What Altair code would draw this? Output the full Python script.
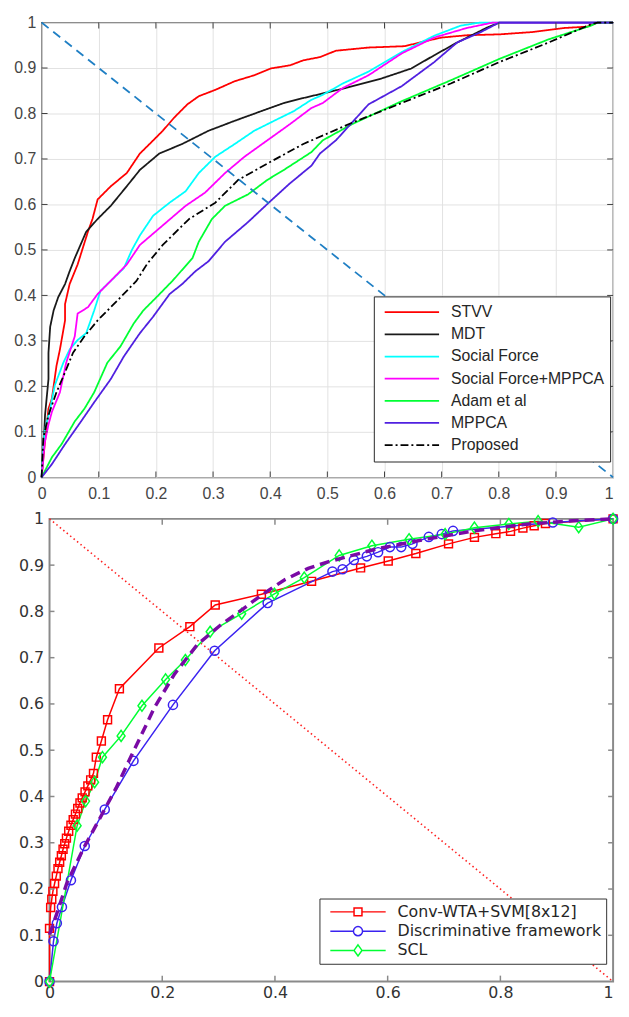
import altair as alt
import pandas as pd

# ---------------- top panel data ----------------
TOP_NAMES = ["STVV", "MDT", "Social Force", "Social Force+MPPCA", "Adam et al", "MPPCA", "Proposed"]
TOP_COLORS = ["#ff0000", "#1a1a1a", "#00ffff", "#ff00ff", "#00ff33", "#5020e0", "#000000"]

stvv_x = [0, 0.006, 0.012, 0.018, 0.026, 0.032, 0.041, 0.041, 0.049, 0.063, 0.069, 0.081, 0.089, 0.098,
          0.121, 0.149, 0.172, 0.189, 0.212, 0.232, 0.255, 0.275, 0.304, 0.338, 0.372, 0.401, 0.435,
          0.458, 0.487, 0.515, 0.572, 0.635, 0.675, 0.700, 0.744, 0.801, 0.858, 0.915, 0.955, 0.973, 1.0]
stvv_y = [0, 0.08, 0.151, 0.173, 0.245, 0.281, 0.345, 0.381, 0.425, 0.468, 0.492, 0.540, 0.568, 0.611,
          0.640, 0.669, 0.712, 0.733, 0.762, 0.791, 0.820, 0.838, 0.852, 0.871, 0.884, 0.899, 0.906,
          0.917, 0.924, 0.938, 0.945, 0.948, 0.960, 0.967, 0.972, 0.974, 0.979, 0.988, 0.991, 1.0, 1.0]

mdt_x = [0, 0.003, 0.006, 0.012, 0.012, 0.015, 0.021, 0.029, 0.041, 0.049, 0.058, 0.078, 0.098, 0.121,
         0.149, 0.172, 0.206, 0.246, 0.292, 0.338, 0.384, 0.424, 0.458, 0.532, 0.595, 0.647, 0.687,
         0.727, 0.778, 0.801, 0.900, 1.0]
mdt_y = [0, 0.058, 0.137, 0.216, 0.274, 0.331, 0.367, 0.396, 0.425, 0.453, 0.482, 0.540, 0.568, 0.597,
         0.640, 0.676, 0.712, 0.733, 0.762, 0.784, 0.805, 0.823, 0.834, 0.856, 0.877, 0.899, 0.928,
         0.956, 0.988, 1.0, 1.0, 1.0]

sf_x = [0, 0.005, 0.015, 0.023, 0.038, 0.049, 0.063, 0.078, 0.092, 0.103, 0.121, 0.144, 0.158, 0.172,
        0.195, 0.224, 0.252, 0.275, 0.304, 0.338, 0.372, 0.407, 0.441, 0.472, 0.492, 0.527, 0.572,
        0.630, 0.687, 0.733, 0.767, 1.0]
sf_y = [0, 0.101, 0.151, 0.202, 0.252, 0.281, 0.302, 0.317, 0.367, 0.410, 0.432, 0.460, 0.500, 0.532,
        0.575, 0.604, 0.629, 0.669, 0.705, 0.733, 0.762, 0.784, 0.805, 0.830, 0.841, 0.866, 0.892,
        0.935, 0.971, 0.993, 1.0, 1.0]

sfm_x = [0, 0.005, 0.012, 0.018, 0.032, 0.043, 0.058, 0.063, 0.081, 0.098, 0.121, 0.149, 0.172, 0.212,
         0.252, 0.286, 0.321, 0.355, 0.395, 0.435, 0.472, 0.492, 0.527, 0.572, 0.630, 0.687, 0.744,
         0.790, 1.0]
sfm_y = [0, 0.073, 0.116, 0.144, 0.187, 0.252, 0.310, 0.360, 0.374, 0.403, 0.432, 0.468, 0.511, 0.554,
         0.597, 0.626, 0.669, 0.705, 0.741, 0.777, 0.812, 0.823, 0.856, 0.884, 0.932, 0.967, 0.988,
         1.0, 1.0]

adam_x = [0, 0.018, 0.035, 0.058, 0.075, 0.092, 0.115, 0.138, 0.161, 0.178, 0.201, 0.229, 0.264, 0.275,
          0.298, 0.321, 0.361, 0.395, 0.424, 0.472, 0.492, 0.544, 0.630, 0.716, 0.801, 0.887, 0.961,
          0.973, 1.0]
adam_y = [0, 0.044, 0.073, 0.123, 0.151, 0.187, 0.252, 0.288, 0.338, 0.367, 0.396, 0.432, 0.482, 0.518,
          0.568, 0.597, 0.622, 0.654, 0.676, 0.715, 0.741, 0.777, 0.827, 0.873, 0.920, 0.963, 0.993,
          1.0, 1.0]

mppca_x = [0, 0.018, 0.041, 0.069, 0.092, 0.121, 0.144, 0.172, 0.195, 0.224, 0.246, 0.269, 0.292, 0.321,
           0.361, 0.401, 0.435, 0.472, 0.487, 0.515, 0.572, 0.630, 0.687, 0.727, 0.767, 0.801, 1.0]
mppca_y = [0, 0.029, 0.073, 0.123, 0.165, 0.216, 0.266, 0.317, 0.353, 0.403, 0.425, 0.453, 0.475, 0.518,
           0.561, 0.608, 0.647, 0.685, 0.712, 0.741, 0.820, 0.860, 0.913, 0.956, 0.978, 1.0, 1.0]

prop_x = [0, 0.003, 0.012, 0.026, 0.041, 0.055, 0.075, 0.098, 0.132, 0.166, 0.185, 0.212, 0.258, 0.304,
          0.344, 0.395, 0.458, 0.544, 0.630, 0.716, 0.801, 0.887, 0.961, 0.973, 1.0]
prop_y = [0, 0.087, 0.137, 0.187, 0.231, 0.274, 0.310, 0.345, 0.388, 0.432, 0.470, 0.511, 0.568, 0.604,
          0.654, 0.690, 0.733, 0.780, 0.823, 0.866, 0.913, 0.956, 0.996, 1.0, 1.0]

top_xs = [stvv_x, mdt_x, sf_x, sfm_x, adam_x, mppca_x, prop_x]
top_ys = [stvv_y, mdt_y, sf_y, sfm_y, adam_y, mppca_y, prop_y]

# ---------------- bottom panel data ----------------
BOT_NAMES = ["Conv-WTA+SVM[8x12]", "Discriminative framework", "SCL"]
BOT_COLORS = ["#ff0000", "#3a22f0", "#00ff33"]

conv_x = [0.000, 0.000, 0.002, 0.004, 0.006, 0.009, 0.012, 0.015, 0.018, 0.021, 0.024, 0.027, 0.030,
          0.034, 0.038, 0.042, 0.046, 0.050, 0.054, 0.058, 0.063, 0.068, 0.073, 0.078, 0.083, 0.092,
          0.103, 0.124, 0.194, 0.249, 0.294, 0.376, 0.465, 0.552, 0.601, 0.650, 0.708, 0.754, 0.792,
          0.818, 0.840, 0.860, 0.880, 1.000]
conv_y = [0.000, 0.115, 0.160, 0.178, 0.195, 0.212, 0.228, 0.244, 0.258, 0.272, 0.286, 0.298, 0.310,
          0.325, 0.338, 0.350, 0.362, 0.374, 0.386, 0.397, 0.410, 0.423, 0.436, 0.450, 0.485, 0.520,
          0.566, 0.633, 0.721, 0.767, 0.814, 0.837, 0.865, 0.894, 0.909, 0.925, 0.946, 0.960, 0.968,
          0.973, 0.980, 0.985, 0.990, 1.000]

disc_x = [0.000, 0.007, 0.013, 0.022, 0.038, 0.0625, 0.098, 0.149, 0.219, 0.293, 0.387, 0.502, 0.520,
          0.540, 0.563, 0.583, 0.604, 0.624, 0.644, 0.673, 0.696, 0.716, 0.893, 1.000]
disc_y = [0.000, 0.087, 0.126, 0.161, 0.219, 0.293, 0.372, 0.477, 0.598, 0.715, 0.818, 0.886, 0.891,
          0.911, 0.919, 0.928, 0.939, 0.939, 0.946, 0.961, 0.967, 0.974, 0.992, 1.000]

scl_x = [0.000, 0.049, 0.064, 0.080, 0.094, 0.127, 0.164, 0.206, 0.241, 0.285, 0.341, 0.399, 0.452,
         0.514, 0.572, 0.638, 0.702, 0.754, 0.815, 0.867, 0.939, 1.000]
scl_y = [0.000, 0.337, 0.390, 0.431, 0.485, 0.531, 0.596, 0.653, 0.695, 0.756, 0.795, 0.838, 0.873,
         0.921, 0.942, 0.956, 0.967, 0.981, 0.989, 0.995, 0.982, 1.000]

purple_x = [0.000, 0.016, 0.031, 0.0625, 0.0885, 0.118, 0.146, 0.187, 0.222, 0.262, 0.303, 0.343, 0.378,
            0.418, 0.459, 0.494, 0.580, 0.667, 0.754, 0.841, 0.928, 1.000]
purple_y = [0.101, 0.158, 0.214, 0.293, 0.351, 0.418, 0.490, 0.594, 0.665, 0.728, 0.770, 0.805, 0.837,
            0.869, 0.893, 0.907, 0.935, 0.956, 0.974, 0.988, 0.996, 1.000]

bot_xs = [conv_x, disc_x, scl_x]
bot_ys = [conv_y, disc_y, scl_y]

diag_x = [0.0, 1.0]
diag_y = [1.0, 0.0]

TICKS_01 = [0.0, 0.1, 0.2, 0.3, 0.4, 0.5, 0.6, 0.7, 0.8, 0.9, 1.0]
TICKS_02 = [0.0, 0.2, 0.4, 0.6, 0.8, 1.0]


def long_df(names, xs, ys, key):
    rows = []
    for n, xv, yv in zip(names, xs, ys):
        for i, (a, b) in enumerate(zip(xv, yv)):
            rows.append({key: n, "fpr": a, "tpr": b, "idx": i})
    return pd.DataFrame(rows)


top_df = long_df(TOP_NAMES, top_xs, top_ys, "method")
bot_df = long_df(BOT_NAMES, bot_xs, bot_ys, "series")
purple_df = pd.DataFrame({"fpr": purple_x, "tpr": purple_y, "idx": list(range(len(purple_x)))})
diag_df = pd.DataFrame({"fpr": diag_x, "tpr": diag_y})
frame_df = pd.DataFrame({"x0": [0.0], "x1": [1.0], "y0": [0.0], "y1": [1.0]})

LAST_RIGHT = {"condition": {"test": "datum.value === 1", "value": "right"}, "value": "center"}


def inward_ticks(xvals, yvals, sx, sy, color, width, xlen, ylen):
    """Inward-pointing tick marks on all four sides of the frame."""
    xt = pd.DataFrame({"v": xvals})
    yt = pd.DataFrame({"v": yvals})
    layers = []
    for edge, off in ((1.0, xlen / 2), (0.0, -xlen / 2)):
        layers.append(alt.Chart(xt).mark_tick(orient="vertical", size=xlen, thickness=width,
                                              color=color, yOffset=off, opacity=1).encode(
            x=alt.X("v:Q", scale=sx, axis=None), y=alt.YDatum(edge, scale=sy, axis=None)))
    for edge, off in ((0.0, ylen / 2), (1.0, -ylen / 2)):
        layers.append(alt.Chart(yt).mark_tick(orient="horizontal", size=ylen, thickness=width,
                                              color=color, xOffset=off, opacity=1).encode(
            y=alt.Y("v:Q", scale=sy, axis=None), x=alt.XDatum(edge, scale=sx, axis=None)))
    return layers


# ---------------- top panel ----------------
W1, H1 = 578, 460
sx1 = alt.Scale(domain=[0, 1], nice=False, zero=False)
sy1 = alt.Scale(domain=[0, 1], nice=False, zero=False)
F1 = "Liberation Sans"

ax_x1 = alt.Axis(orient="bottom", values=TICKS_01, format="~g", grid=True, gridColor="#e2e2e2",
                 gridWidth=1, ticks=False, tickSize=0, domain=False, labelFont=F1, labelFontSize=16,
                 labelColor="#454545", labelPadding=8, labelOverlap=False, title=None,
                 labelAlign=LAST_RIGHT)
ax_y1 = alt.Axis(orient="left", values=TICKS_01, format="~g", grid=True, gridColor="#e2e2e2",
                 gridWidth=1, ticks=False, tickSize=0, domain=False, labelFont=F1, labelFontSize=16,
                 labelColor="#454545", labelPadding=6, labelOverlap=False, title=None,
                 minExtent=33, maxExtent=33)

leg1 = alt.Legend(title=None, orient="none", legendX=336, legendY=277, symbolType="stroke",
                  symbolSize=3025, clipHeight=22, rowPadding=0.4, padding=5, symbolOffset=5,
                  labelOffset=11, labelFont=F1, labelFontSize=16, labelColor="#262626",
                  strokeColor="#262626", fillColor="white", labelLimit=400, symbolStrokeWidth=1.8)

top_lines = alt.Chart(top_df).mark_line(strokeJoin="round").encode(
    x=alt.X("fpr:Q", scale=sx1, axis=ax_x1),
    y=alt.Y("tpr:Q", scale=sy1, axis=ax_y1),
    color=alt.Color("method:N", scale=alt.Scale(domain=TOP_NAMES, range=TOP_COLORS), legend=leg1),
    strokeDash=alt.StrokeDash("method:N", scale=alt.Scale(domain=TOP_NAMES,
                              range=[[1, 0]] * 6 + [[8, 3, 2, 3]]), legend=leg1),
    strokeWidth=alt.StrokeWidth("method:N", scale=alt.Scale(domain=TOP_NAMES,
                                range=[1.8] * 6 + [3.2]), legend=leg1),
    order="idx:Q",
)
top_diag = alt.Chart(diag_df).mark_line(color="#1f7fc4", strokeDash=[9, 6], strokeWidth=1.8).encode(
    x=alt.X("fpr:Q", scale=sx1, axis=None),
    y=alt.Y("tpr:Q", scale=sy1, axis=None),
)
top_ticks = inward_ticks(TICKS_01[1:-1], TICKS_01[1:-1], sx1, sy1, "#404040", 1, 6, 6)
top = alt.layer(top_lines, top_diag, *top_ticks).resolve_axis(
    x="independent", y="independent").properties(
    width=W1, height=H1, view=alt.ViewBackground(stroke="#404040", strokeWidth=1.3))

# ---------------- bottom panel ----------------
X0 = 8                       # bottom plot starts this many px right of the top plot
W2, H2 = 578, 468
sx2 = alt.Scale(domain=[0, 1], nice=False, zero=False, range=[X0, W2])
sy2 = alt.Scale(domain=[0, 1], nice=False, zero=False)
F2 = "DejaVu Sans"
FRAME2 = "#8a8a8a"

ax_x2 = alt.Axis(orient="bottom", values=TICKS_02, format="~g", grid=False, ticks=False, tickSize=0,
                 domain=False, labelFont=F2, labelFontSize=16, labelColor="#333333", labelPadding=3,
                 labelOverlap=False, title=None, labelAlign=LAST_RIGHT)
ax_y2 = alt.Axis(orient="left", offset=-X0, values=TICKS_01, format="~g", grid=False, ticks=False,
                 tickSize=0, domain=False, labelFont=F2, labelFontSize=16, labelColor="#333333",
                 labelPadding=6, labelOverlap=False, title=None, minExtent=0)

LEG_SYMS = ["M-1,0H-0.143M0.143,0H1M-0.143,-0.143H0.143V0.143H-0.143Z",
            "M-1,0H-0.164M0.164,0H1M0.164,0A0.164,0.164,0,1,1,-0.164,0A0.164,0.164,0,1,1,0.164,0Z",
            "M-1,0H-0.143M0.143,0H1M0,-0.2L0.143,0L0,0.2L-0.143,0Z"]
sym_expr = ("datum.value === '%s' ? '%s' : datum.value === '%s' ? '%s' : '%s'"
            % (BOT_NAMES[0], LEG_SYMS[0], BOT_NAMES[1], LEG_SYMS[1], LEG_SYMS[2]))

leg2 = alt.Legend(title=None, orient="none", legendX=281, legendY=384, symbolType={"expr": sym_expr},
                  symbolSize=3136, clipHeight=19, rowPadding=0.5, padding=4, symbolOffset=6,
                  labelOffset=11, labelFont=F2, labelFontSize=16, labelColor="#262626",
                  strokeColor="#333333", fillColor="white", labelLimit=400, symbolStrokeWidth=1.5,
                  symbolFillColor="transparent")

color2 = alt.Scale(domain=BOT_NAMES, range=BOT_COLORS)

bot_frame = alt.Chart(frame_df).mark_rect(fillOpacity=0, stroke=FRAME2, strokeWidth=2).encode(
    x=alt.X("x0:Q", scale=sx2, axis=None), x2="x1:Q",
    y=alt.Y("y0:Q", scale=sy2, axis=None), y2="y1:Q",
)
bot_diag = alt.Chart(diag_df).mark_line(color="#ff2020", strokeDash=[1.5, 3], strokeWidth=1.6).encode(
    x=alt.X("fpr:Q", scale=sx2, axis=None),
    y=alt.Y("tpr:Q", scale=sy2, axis=None),
)
bot_lines = alt.Chart(bot_df).mark_line(strokeWidth=1.5).encode(
    x=alt.X("fpr:Q", scale=sx2, axis=ax_x2),
    y=alt.Y("tpr:Q", scale=sy2, axis=ax_y2),
    color=alt.Color("series:N", scale=color2, legend=leg2),
    order="idx:Q",
)

MARKERS = ["M-1,-1H1V1H-1Z",
           "M1.15,0A1.15,1.15,0,1,1,-1.15,0A1.15,1.15,0,1,1,1.15,0Z",
           "M0,-1.4L1,0L0,1.4L-1,0Z"]
marker_layers = []
for name, col, shp in zip(BOT_NAMES, BOT_COLORS, MARKERS):
    marker_layers.append(alt.Chart(bot_df).transform_filter(alt.datum.series == name).mark_point(
        shape=shp, color=col, filled=False, strokeWidth=1.5, size=64, opacity=1).encode(
        x=alt.X("fpr:Q", scale=sx2, axis=None),
        y=alt.Y("tpr:Q", scale=sy2, axis=None),
    ))

bot_purple = alt.Chart(purple_df).mark_line(color="#7a0aa5", strokeDash=[10, 6], strokeWidth=3.5).encode(
    x=alt.X("fpr:Q", scale=sx2, axis=None),
    y=alt.Y("tpr:Q", scale=sy2, axis=None),
    order="idx:Q",
)
bot_ticks = inward_ticks(TICKS_02[1:-1], TICKS_01[1:-1], sx2, sy2, FRAME2, 1.5, 6, 5)
bot = alt.layer(bot_frame, bot_diag, bot_lines, *marker_layers, bot_purple, *bot_ticks).resolve_axis(
    x="independent", y="independent").properties(
    width=W2, height=H2, view=alt.ViewBackground(strokeOpacity=0))

chart = alt.vconcat(top, bot, spacing=8).resolve_scale(
    color="independent", strokeDash="independent", strokeWidth="independent"
).resolve_legend(
    color="independent", strokeDash="independent", strokeWidth="independent"
).properties(
    padding={"left": 0, "top": 0, "right": 0, "bottom": 0}, background="white")

chart.save("out.html", embed_options={"renderer": "svg", "actions": False})
